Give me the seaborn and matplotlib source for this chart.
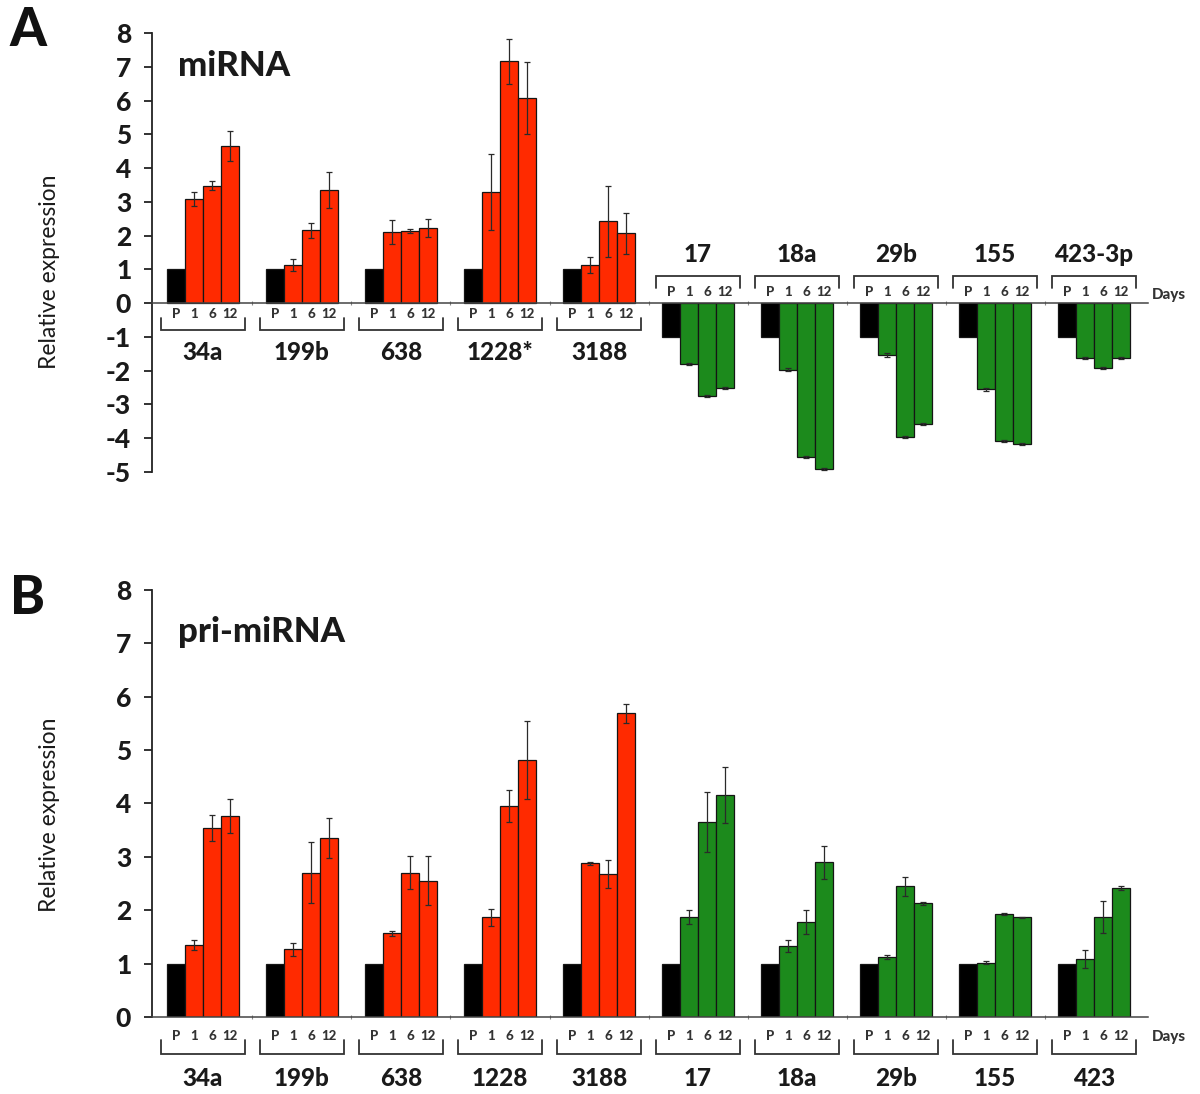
import numpy as np
import pandas as pd
import matplotlib
matplotlib.use("Agg")
import matplotlib.pyplot as plt
import seaborn as sns

# ---------------------------------------------------------------- data
days = ["P", "1", "6", "12"]

# Panel A: mature miRNA (values for days 1, 6, 12; parental = 1 or -1)
mirna_groups = ["34a", "199b", "638", "1228*", "3188", "17", "18a", "29b", "155", "423-3p"]
mirna_kind = ["up"] * 5 + ["down"] * 5
mirna_vals = [
    [3.08, 3.48, 4.66],
    [1.14, 2.16, 3.35],
    [2.10, 2.15, 2.22],
    [3.30, 7.16, 6.08],
    [1.13, 2.42, 2.07],
    [-1.80, -2.74, -2.50],
    [-1.97, -4.56, -4.91],
    [-1.54, -3.97, -3.59],
    [-2.55, -4.09, -4.18],
    [-1.62, -1.92, -1.62],
]
mirna_errs = [
    [0.20, 0.14, 0.45],
    [0.18, 0.22, 0.52],
    [0.36, 0.06, 0.26],
    [1.12, 0.66, 1.06],
    [0.23, 1.04, 0.60],
    [0.03, 0.03, 0.03],
    [0.05, 0.04, 0.04],
    [0.06, 0.03, 0.03],
    [0.04, 0.03, 0.03],
    [0.03, 0.03, 0.03],
]

# Panel B: primary transcripts
pri_groups = ["34a", "199b", "638", "1228", "3188", "17", "18a", "29b", "155", "423"]
pri_kind = ["up"] * 5 + ["down"] * 5
pri_vals = [
    [1.35, 3.54, 3.76],
    [1.27, 2.70, 3.35],
    [1.57, 2.70, 2.55],
    [1.87, 3.96, 4.82],
    [2.88, 2.68, 5.69],
    [1.88, 3.66, 4.16],
    [1.33, 1.78, 2.90],
    [1.12, 2.45, 2.13],
    [1.02, 1.93, 1.87],
    [1.08, 1.88, 2.42],
]
pri_errs = [
    [0.09, 0.25, 0.32],
    [0.12, 0.57, 0.38],
    [0.05, 0.31, 0.46],
    [0.16, 0.30, 0.73],
    [0.03, 0.26, 0.18],
    [0.13, 0.56, 0.53],
    [0.12, 0.22, 0.31],
    [0.04, 0.18, 0.03],
    [0.02, 0.02, 0.01],
    [0.17, 0.30, 0.04],
]

# ---------------------------------------------------------------- style
sns.set_theme(style="white")
plt.rcParams["font.family"] = ["Lato", "DejaVu Sans"]

RED = "#ff2a00"
GREEN = "#1c8a1c"
PALETTE = {"P": "#000000", "up": RED, "down": GREEN}
PITCH = 5.5          # distance between first bars of adjacent groups
TXT = "#1a1a1a"
HEAVY = 900


def build_frame(groups, kinds, vals, errs, signed):
    rows = []
    for g, (name, kind, v, e) in enumerate(zip(groups, kinds, vals, errs)):
        start = g * PITCH
        p_val = -1.0 if (signed and kind == "down") else 1.0
        rows.append(dict(group=name, day="P", pos=start, value=p_val, err=np.nan, kind="P"))
        for j, d in enumerate(days[1:]):
            rows.append(dict(group=name, day=d, pos=start + j + 1, value=v[j], err=e[j], kind=kind))
    return pd.DataFrame(rows)


def draw_panel(ax, df):
    sns.barplot(data=df, x="pos", y="value", hue="kind", palette=PALETTE,
                native_scale=True, dodge=False, width=1.0, errorbar=None,
                saturation=1, edgecolor="#151515", linewidth=0.9,
                legend=False, ax=ax)
    e = df.dropna(subset=["err"])
    ax.errorbar(e["pos"], e["value"], yerr=e["err"], fmt="none",
                ecolor="#2a2a2a", elinewidth=0.9, capsize=2.2, capthick=0.9, zorder=5)


def px2data(ax, fig, px):
    h = ax.get_position().height * fig.get_figheight() * fig.dpi
    y0, y1 = ax.get_ylim()
    return px * (y1 - y0) / h


def annotate_groups(ax, fig, groups, kinds, signed, off, days_px):
    lab_px, arm_px, line_px, name_px = off
    for g, (name, kind) in enumerate(zip(groups, kinds)):
        start = g * PITCH
        above = signed and kind == "down"
        s = 1 if above else -1
        # day labels
        for j, d in enumerate(days):
            ax.text(start + j, s * px2data(ax, fig, lab_px), d, ha="center", va="center",
                    fontsize=9.5, fontweight=HEAVY, color="#333333", clip_on=False)
        # bracket
        xl, xr = start - 0.5 - 0.35, start + 3.5 + 0.35
        ya = s * px2data(ax, fig, arm_px)
        yl = s * px2data(ax, fig, line_px)
        ax.plot([xl, xl, xr, xr], [ya, yl, yl, ya], color="#333333", lw=1.3,
                clip_on=False, solid_joinstyle="miter")
        # group name
        ax.text(start + 1.5, s * px2data(ax, fig, name_px), name, ha="center", va="center",
                fontsize=17.5, fontweight=HEAVY, color=TXT, clip_on=False)
    ax.text(9 * PITCH + 3.5 + 1.2, px2data(ax, fig, days_px), "Days",
            ha="left", va="center", fontsize=11, fontweight=HEAVY,
            color="#333333", clip_on=False)


def style_axis(ax, ylo, yhi):
    ax.set_xlim(-1.33, 54.0)
    ax.set_ylim(ylo, yhi)
    ticks = np.arange(ylo, yhi + 1, 1)
    ax.set_yticks(ticks)
    ax.set_yticklabels([str(int(t)) for t in ticks],
                       fontsize=19, fontweight=HEAVY, color=TXT)
    ax.spines["top"].set_visible(False)
    ax.spines["right"].set_visible(False)
    ax.spines["left"].set_color("#222222")
    ax.spines["left"].set_linewidth(1.3)
    ax.spines["bottom"].set_position(("data", 0))
    ax.spines["bottom"].set_color("#444444")
    ax.spines["bottom"].set_linewidth(1.1)
    ax.tick_params(axis="y", direction="out", length=6, width=1.3, color="#222222", pad=9, left=True)
    mids = [g * PITCH + 3.5 + (PITCH - 4) / 2 for g in range(9)]
    ax.set_xticks(mids)
    ax.set_xticklabels([])
    ax.tick_params(axis="x", direction="inout", length=3, width=0.8, color="#888888", bottom=True)
    ax.set_xlabel("")
    ax.set_ylabel("")
    ax.grid(False)


fig = plt.figure(figsize=(12, 10.94), dpi=100)
axA = fig.add_axes([0.1267, 0.5686, 0.83, 0.4012])
axB = fig.add_axes([0.1267, 0.0704, 0.83, 0.3903])

dfA = build_frame(mirna_groups, mirna_kind, mirna_vals, mirna_errs, signed=True)
dfB = build_frame(pri_groups, pri_kind, pri_vals, pri_errs, signed=False)

draw_panel(axA, dfA)
draw_panel(axB, dfB)
style_axis(axA, -5, 8)
style_axis(axB, 0, 8)

annotate_groups(axA, fig, mirna_groups, mirna_kind, True, (11, 15, 27, 49), 8)
annotate_groups(axB, fig, pri_groups, pri_kind, False, (19, 23, 37, 62), -20)

# panel letters, titles and axis titles
fig.text(0.008, 1 - 30 / 1094, "A", fontsize=38, fontweight=HEAVY, va="center", ha="left", color="#111111")
fig.text(0.008, 1 - 598 / 1094, "B", fontsize=38, fontweight=HEAVY, va="center", ha="left", color="#111111")
fig.text(178 / 1200, 1 - 66 / 1094, "miRNA", fontsize=25, fontweight=HEAVY, va="center", color=TXT)
fig.text(178 / 1200, 1 - 632 / 1094, "pri-miRNA", fontsize=25, fontweight=HEAVY, va="center", color=TXT)
fig.text(50 / 1200, 1 - 272 / 1094, "Relative expression", rotation=90, fontsize=16.5,
         va="center", ha="center", color=TXT)
fig.text(50 / 1200, 1 - 815 / 1094, "Relative expression", rotation=90, fontsize=16.5,
         va="center", ha="center", color=TXT)

fig.savefig("out.png", dpi=100, facecolor="white")
